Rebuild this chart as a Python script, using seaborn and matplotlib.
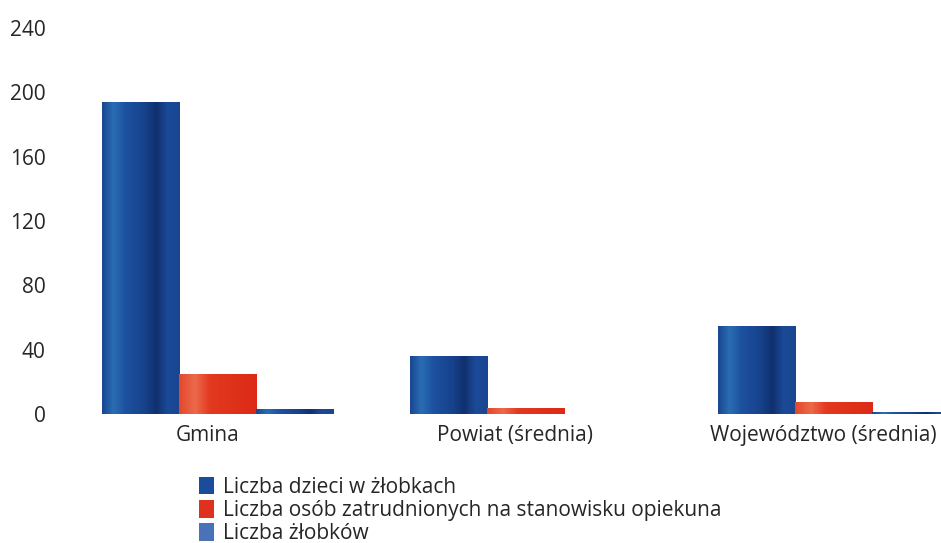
import numpy as np
import pandas as pd
import seaborn as sns
import matplotlib.pyplot as plt
import matplotlib.transforms as mtransforms
from matplotlib.patches import Patch
from matplotlib.colors import LinearSegmentedColormap

# data
categories = ["Gmina", "Powiat (średnia)", "Województwo (średnia)"]
series_names = ["Liczba dzieci w żłobkach",
                "Liczba osób zatrudnionych na stanowisku opiekuna",
                "Liczba żłobków"]
dzieci = [194, 36, 55]
opiekunowie = [25, 4, 7.5]
zlobki = [3, 0.3, 1]
y_ticks = [0, 40, 80, 120, 160, 200, 240]

rows = []
for name, vals in zip(series_names, [dzieci, opiekunowie, zlobki]):
    for cat, v in zip(categories, vals):
        rows.append({"kategoria": cat, "seria": name, "wartosc": v})
df = pd.DataFrame(rows)

sns.set_style("white")
plt.rcParams['font.family'] = ['Open Sans', 'DejaVu Sans']

colors = ["#1b4c9c", "#e0301e", "#2a5aa8"]

fig = plt.figure(figsize=(9.41, 5.43), dpi=100)
ax = fig.add_axes([101/941, 129/543, 840/941, (414-28)/543])

sns.barplot(data=df, x="kategoria", y="wartosc", hue="seria",
            palette=colors, width=0.75, gap=0, saturation=1,
            edgecolor="none", linewidth=0, ax=ax, legend=False)

# shaded look of the printed bars (cylinder-like stripes)
blue_cm = LinearSegmentedColormap.from_list("b", [(0, "#1a4792"), (0.14, "#2a6db4"),
                                                  (0.3, "#1d51a0"), (0.55, "#17428c"),
                                                  (0.7, "#10306e"), (0.85, "#1b4a98"),
                                                  (1, "#1a4690")])
red_cm = LinearSegmentedColormap.from_list("r", [(0, "#e4482c"), (0.2, "#ec6a4c"),
                                                 (0.4, "#e2391f"), (1, "#dc2a16")])
grad = np.linspace(0, 1, 64).reshape(1, -1)
for i, p in enumerate(list(ax.patches)):
    w, h = p.get_width(), p.get_height()
    if h <= 0:
        continue
    x0, y0 = p.get_x(), p.get_y()
    cm = red_cm if i // len(categories) == 1 else blue_cm
    im = ax.imshow(grad, cmap=cm, aspect="auto", extent=(x0, x0 + w, y0, y0 + h),
                   interpolation="bilinear", zorder=p.get_zorder() + 0.1)
    im.set_clip_path(p)

ax.set_xlim(-0.377, 2.35)
ax.set_ylim(0, 240)
ax.set_yticks(y_ticks)
ax.set_xlabel("")
ax.set_ylabel("")
for s in ax.spines.values():
    s.set_visible(False)
ax.tick_params(axis='y', length=0, pad=40, labelsize=15, colors="#262626")
ax.tick_params(axis='x', length=0, pad=8, labelsize=15, colors="#262626")

# labels sit a little left of the group centres in the original
shift = mtransforms.ScaledTranslation(-10/100, 0, fig.dpi_scale_trans)
for lab in ax.get_xticklabels():
    lab.set_transform(lab.get_transform() + shift)

handles = [Patch(facecolor=c, edgecolor="none") for c in ["#1b4c9c", "#e0301e", "#4a72b8"]]
fig.legend(handles, series_names, loc='upper left',
           bbox_to_anchor=(199/941, 1 - 477/543), frameon=False,
           handlelength=0.7, handleheight=0.9, labelspacing=0.1,
           handletextpad=0.45, fontsize=15, borderaxespad=0, borderpad=0,
           labelcolor="#262626")

fig.savefig("out.png", dpi=100)
